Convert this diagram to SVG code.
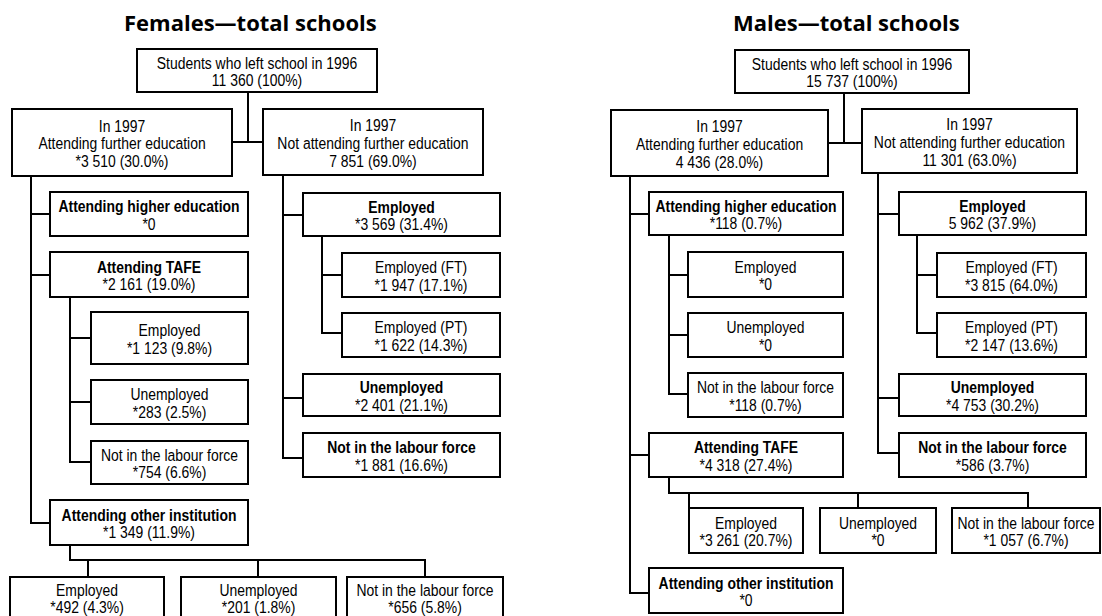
<svg xmlns="http://www.w3.org/2000/svg" width="1102" height="616" viewBox="0 0 1102 616">
<style>
.box{fill:#fff;stroke:#000;stroke-width:2}
.t{font-family:"Liberation Sans",Arial,sans-serif;font-size:17px;text-anchor:middle;fill:#000}
.b{font-weight:bold}
.title{font-family:"Open Sans",Lato,sans-serif;font-weight:bold;font-size:22px;fill:#000}
.conn path{fill:none;stroke:#000;stroke-width:2}
</style>
<rect width="1102" height="616" fill="#fff"/>
<text class="title" x="124" y="31">Females—total schools</text>
<text class="title" x="733" y="31">Males—total schools</text>
<g class="conn" id="connectors">
<path d="M248,92V142M232,142H263"/>
<path d="M31,176V523H50M31,214H50M31,275H50"/>
<path d="M70,297V462H91M70,338H91M70,402H91"/>
<path d="M70,545V560H425V577M88,560V577M258,560V577"/>
<path d="M283,175V458H303M283,215H303M283,398H303"/>
<path d="M322,236V333H342M322,275H342"/>
<path d="M844,93V143M828,143H862"/>
<path d="M630,176V593H649M630,214H649M630,455H649"/>
<path d="M669,235V394H688M669,275H688M669,335H688"/>
<path d="M669,477V493H1028V508M689,493V508M858,493V508"/>
<path d="M878,173V453H899M878,214H899M878,398H899"/>
<path d="M917,235V333H937M917,275H937"/>
</g>
<g id="f-root"><rect class="box" x="137" y="49" width="240" height="43"/><text class="t" transform="translate(257,68.5) scale(0.82,1)"><tspan x="0" y="0">Students who left school in 1996</tspan><tspan x="0" y="18">11 360 (100%)</tspan></text></g>
<g id="f-further"><rect class="box" x="12" y="109" width="220" height="67"/><text class="t" transform="translate(122,131.5) scale(0.82,1)"><tspan x="0" y="0">In 1997</tspan><tspan x="0" y="18">Attending further education</tspan><tspan x="0" y="36">*3 510 (30.0%)</tspan></text></g>
<g id="f-notfurther"><rect class="box" x="263" y="109" width="220" height="66"/><text class="t" transform="translate(373,131) scale(0.82,1)"><tspan x="0" y="0">In 1997</tspan><tspan x="0" y="18">Not attending further education</tspan><tspan x="0" y="36">7 851 (69.0%)</tspan></text></g>
<g id="f-higher"><rect class="box" x="50" y="192" width="198" height="44"/><text class="t" transform="translate(149,212) scale(0.82,1)"><tspan x="0" y="0" class="b">Attending higher education</tspan><tspan x="0" y="18">*0</tspan></text></g>
<g id="f-tafe"><rect class="box" x="50" y="252" width="198" height="45"/><text class="t" transform="translate(149,272.5) scale(0.82,1)"><tspan x="0" y="0" class="b">Attending TAFE</tspan><tspan x="0" y="18">*2 161 (19.0%)</tspan></text></g>
<g id="f-tafe-emp"><rect class="box" x="91" y="312" width="157" height="52"/><text class="t" transform="translate(169.5,336) scale(0.82,1)"><tspan x="0" y="0">Employed</tspan><tspan x="0" y="18">*1 123 (9.8%)</tspan></text></g>
<g id="f-tafe-unemp"><rect class="box" x="91" y="380" width="157" height="44"/><text class="t" transform="translate(169.5,400) scale(0.82,1)"><tspan x="0" y="0">Unemployed</tspan><tspan x="0" y="18">*283 (2.5%)</tspan></text></g>
<g id="f-tafe-nlf"><rect class="box" x="91" y="441" width="157" height="43"/><text class="t" transform="translate(169.5,460.5) scale(0.82,1)"><tspan x="0" y="0">Not in the labour force</tspan><tspan x="0" y="18">*754 (6.6%)</tspan></text></g>
<g id="f-other"><rect class="box" x="50" y="500" width="198" height="45"/><text class="t" transform="translate(149,520.5) scale(0.82,1)"><tspan x="0" y="0" class="b">Attending other institution</tspan><tspan x="0" y="18">*1 349 (11.9%)</tspan></text></g>
<g id="f-other-emp"><rect class="box" x="10" y="577" width="154" height="45"/><text class="t" transform="translate(87,596) scale(0.82,1)"><tspan x="0" y="0">Employed</tspan><tspan x="0" y="17">*492 (4.3%)</tspan></text></g>
<g id="f-other-unemp"><rect class="box" x="181" y="577" width="155" height="45"/><text class="t" transform="translate(258.5,596) scale(0.82,1)"><tspan x="0" y="0">Unemployed</tspan><tspan x="0" y="17">*201 (1.8%)</tspan></text></g>
<g id="f-other-nlf"><rect class="box" x="347" y="577" width="156" height="45"/><text class="t" transform="translate(425,596) scale(0.82,1)"><tspan x="0" y="0">Not in the labour force</tspan><tspan x="0" y="17">*656 (5.8%)</tspan></text></g>
<g id="f-employed"><rect class="box" x="303" y="193" width="197" height="43"/><text class="t" transform="translate(401.5,212.5) scale(0.82,1)"><tspan x="0" y="0" class="b">Employed</tspan><tspan x="0" y="18">*3 569 (31.4%)</tspan></text></g>
<g id="f-ft"><rect class="box" x="342" y="253" width="158" height="44"/><text class="t" transform="translate(421,273) scale(0.82,1)"><tspan x="0" y="0">Employed (FT)</tspan><tspan x="0" y="18">*1 947 (17.1%)</tspan></text></g>
<g id="f-pt"><rect class="box" x="342" y="313" width="158" height="44"/><text class="t" transform="translate(421,333) scale(0.82,1)"><tspan x="0" y="0">Employed (PT)</tspan><tspan x="0" y="18">*1 622 (14.3%)</tspan></text></g>
<g id="f-unemployed"><rect class="box" x="303" y="374" width="197" height="42"/><text class="t" transform="translate(401.5,393) scale(0.82,1)"><tspan x="0" y="0" class="b">Unemployed</tspan><tspan x="0" y="18">*2 401 (21.1%)</tspan></text></g>
<g id="f-nlf"><rect class="box" x="303" y="433" width="197" height="44"/><text class="t" transform="translate(401.5,453) scale(0.82,1)"><tspan x="0" y="0" class="b">Not in the labour force</tspan><tspan x="0" y="18">*1 881 (16.6%)</tspan></text></g>
<g id="m-root"><rect class="box" x="735" y="50" width="234" height="43"/><text class="t" transform="translate(852,69.5) scale(0.82,1)"><tspan x="0" y="0">Students who left school in 1996</tspan><tspan x="0" y="18">15 737 (100%)</tspan></text></g>
<g id="m-further"><rect class="box" x="611" y="110" width="217" height="66"/><text class="t" transform="translate(719.5,132) scale(0.82,1)"><tspan x="0" y="0">In 1997</tspan><tspan x="0" y="18">Attending further education</tspan><tspan x="0" y="36">4 436 (28.0%)</tspan></text></g>
<g id="m-notfurther"><rect class="box" x="862" y="109" width="215" height="64"/><text class="t" transform="translate(969.5,130) scale(0.82,1)"><tspan x="0" y="0">In 1997</tspan><tspan x="0" y="18">Not attending further education</tspan><tspan x="0" y="36">11 301 (63.0%)</tspan></text></g>
<g id="m-higher"><rect class="box" x="649" y="192" width="194" height="43"/><text class="t" transform="translate(746,211.5) scale(0.82,1)"><tspan x="0" y="0" class="b">Attending higher education</tspan><tspan x="0" y="18">*118 (0.7%)</tspan></text></g>
<g id="m-higher-emp"><rect class="box" x="688" y="252" width="155" height="45"/><text class="t" transform="translate(765.5,272.5) scale(0.82,1)"><tspan x="0" y="0">Employed</tspan><tspan x="0" y="18">*0</tspan></text></g>
<g id="m-higher-unemp"><rect class="box" x="688" y="313" width="155" height="44"/><text class="t" transform="translate(765.5,333) scale(0.82,1)"><tspan x="0" y="0">Unemployed</tspan><tspan x="0" y="18">*0</tspan></text></g>
<g id="m-higher-nlf"><rect class="box" x="688" y="373" width="155" height="44"/><text class="t" transform="translate(765.5,393) scale(0.82,1)"><tspan x="0" y="0">Not in the labour force</tspan><tspan x="0" y="18">*118 (0.7%)</tspan></text></g>
<g id="m-tafe"><rect class="box" x="649" y="433" width="194" height="44"/><text class="t" transform="translate(746,453) scale(0.82,1)"><tspan x="0" y="0" class="b">Attending TAFE</tspan><tspan x="0" y="18">*4 318 (27.4%)</tspan></text></g>
<g id="m-tafe-emp"><rect class="box" x="689" y="508" width="114" height="45"/><text class="t" transform="translate(746,528.5) scale(0.82,1)"><tspan x="0" y="0">Employed</tspan><tspan x="0" y="18">*3 261 (20.7%)</tspan></text></g>
<g id="m-tafe-unemp"><rect class="box" x="820" y="508" width="116" height="45"/><text class="t" transform="translate(878,528.5) scale(0.82,1)"><tspan x="0" y="0">Unemployed</tspan><tspan x="0" y="18">*0</tspan></text></g>
<g id="m-tafe-nlf"><rect class="box" x="952" y="508" width="148" height="45"/><text class="t" transform="translate(1026,528.5) scale(0.82,1)"><tspan x="0" y="0">Not in the labour force</tspan><tspan x="0" y="18">*1 057 (6.7%)</tspan></text></g>
<g id="m-other"><rect class="box" x="649" y="568" width="194" height="45"/><text class="t" transform="translate(746,588.5) scale(0.82,1)"><tspan x="0" y="0" class="b">Attending other institution</tspan><tspan x="0" y="18">*0</tspan></text></g>
<g id="m-employed"><rect class="box" x="899" y="192" width="187" height="43"/><text class="t" transform="translate(992.5,211.5) scale(0.82,1)"><tspan x="0" y="0" class="b">Employed</tspan><tspan x="0" y="18">5 962 (37.9%)</tspan></text></g>
<g id="m-ft"><rect class="box" x="937" y="253" width="149" height="44"/><text class="t" transform="translate(1011.5,273) scale(0.82,1)"><tspan x="0" y="0">Employed (FT)</tspan><tspan x="0" y="18">*3 815 (64.0%)</tspan></text></g>
<g id="m-pt"><rect class="box" x="937" y="313" width="149" height="44"/><text class="t" transform="translate(1011.5,333) scale(0.82,1)"><tspan x="0" y="0">Employed (PT)</tspan><tspan x="0" y="18">*2 147 (13.6%)</tspan></text></g>
<g id="m-unemployed"><rect class="box" x="899" y="374" width="187" height="42"/><text class="t" transform="translate(992.5,393) scale(0.82,1)"><tspan x="0" y="0" class="b">Unemployed</tspan><tspan x="0" y="18">*4 753 (30.2%)</tspan></text></g>
<g id="m-nlf"><rect class="box" x="899" y="433" width="187" height="44"/><text class="t" transform="translate(992.5,453) scale(0.82,1)"><tspan x="0" y="0" class="b">Not in the labour force</tspan><tspan x="0" y="18">*586 (3.7%)</tspan></text></g>
</svg>
